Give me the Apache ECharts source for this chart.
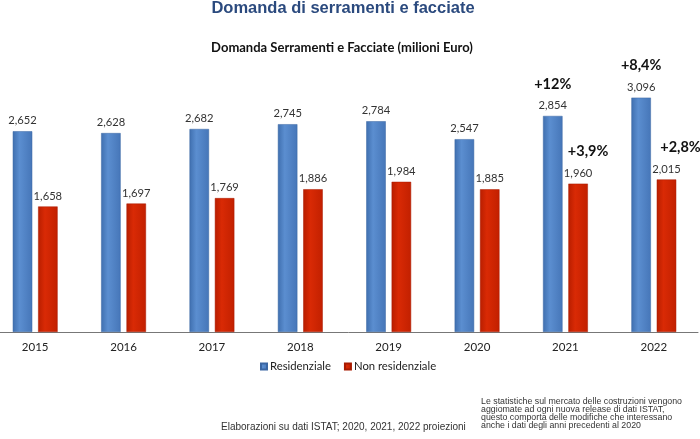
<!DOCTYPE html>
<html>
<head>
<meta charset="utf-8">
<script src="https://cdn.jsdelivr.net/npm/echarts@6/dist/echarts.min.js"></script>
<style>html,body{margin:0;padding:0;background:#fff}#c{width:700px;height:439px}</style>
</head>
<body>
<div id="c"></div>
<script>
const years = ['2015','2016','2017','2018','2019','2020','2021','2022'];
const residenziale = [2652, 2628, 2682, 2745, 2784, 2547, 2854, 3096];
const nonResidenziale = [1658, 1697, 1769, 1886, 1984, 1885, 1960, 2015];
const growthYears = ['2021', '2022'];
const growthRes = ['+12%', '+8,4%'];
const growthNonRes = ['+3,9%', '+2,8%'];
const seriesNames = ['Residenziale', 'Non residenziale'];
const mainTitle = 'Domanda di serramenti e facciate';
const chartTitle = 'Domanda Serramenti e Facciate (milioni Euro)';
const sourceNote = 'Elaborazioni su dati ISTAT; 2020, 2021, 2022 proiezioni';
const disclaimer = ['Le statistiche sul mercato delle costruzioni vengono',
  'aggiomate ad ogni nuova release di dati ISTAT,',
  'questo comporta delle modifiche che interessano',
  'anche i dati degli anni precedenti al 2020'];

const fmt = v => v.toLocaleString('en-US');
const chart = echarts.init(document.getElementById('c'), null, {renderer: 'canvas'});

function growthPoints(vals, labels, dx) {
  return growthYears.map((y, i) => ({
    coord: [y, vals[years.indexOf(y)]],
    value: labels[i],
    label: {offset: [dx[i], -32]}
  }));
}

chart.setOption({
  animation: false,
  title: [
    {text: mainTitle, left: 343, top: 0, padding: 0, textAlign: 'center',
     textStyle: {fontFamily: 'Liberation Sans, Arial', fontWeight: 'bold', fontSize: 16.5, color: '#2B4A7E'}},
    {text: chartTitle, left: 342, top: 41, padding: 0, textAlign: 'center',
     textStyle: {fontFamily: 'Lato', fontWeight: 'bold', fontSize: 13, color: '#111'}},
    {text: sourceNote, left: 221, top: 422, padding: 0,
     textStyle: {fontFamily: 'Liberation Sans, Arial', fontWeight: 'normal', fontSize: 10, color: '#333'}},
    {text: disclaimer.join('\n'), left: 481, top: 397, padding: 0,
     textStyle: {fontFamily: 'Liberation Sans, Arial', fontWeight: 'normal', fontSize: 8.8, lineHeight: 8.2, color: '#333'}}
  ],
  legend: {
    data: seriesNames, left: 260, top: 361, itemWidth: 6, itemHeight: 6, itemGap: 13,
    icon: 'rect', padding: 0,
    textStyle: {fontFamily: 'Lato', fontSize: 11.3, color: '#222', padding: [0, 0, 0, -2]}
  },
  grid: {left: -9, width: 707, top: 29.2, bottom: 107, containLabel: false, outerBoundsMode: 'none'},
  xAxis: {
    type: 'category', data: years,
    axisLine: {show: true, lineStyle: {color: '#777', width: 1}},
    axisTick: {show: false},
    axisLabel: {fontFamily: 'Lato', fontSize: 11.5, color: '#222', margin: 9}
  },
  yAxis: {type: 'value', min: 0, max: 4000, show: false, splitLine: {show: false}},
  series: [
    {
      name: seriesNames[0], type: 'bar', data: residenziale, barWidth: 19.5, barGap: '30%',
      itemStyle: {
        color: new echarts.graphic.LinearGradient(0, 0, 1, 0, [
          {offset: 0, color: '#3F6FAF'}, {offset: 0.35, color: '#5B8ED0'}, {offset: 1, color: '#4676B8'}]),
        borderColor: '#3A66A3', borderWidth: 0.5
      },
      label: {show: true, position: 'top', distance: 5, formatter: p => fmt(p.value),
        fontFamily: 'Lato', fontSize: 11.2, color: '#333'},
      markPoint: {
        symbol: 'circle', symbolSize: 0.1, itemStyle: {color: 'rgba(0,0,0,0)'},
        label: {show: true, position: 'inside', formatter: p => p.value,
          fontFamily: 'Lato', fontWeight: 'bold', fontSize: 14.5, color: '#111'},
        data: growthPoints(residenziale, growthRes, [0, 0])
      }
    },
    {
      name: seriesNames[1], type: 'bar', data: nonResidenziale, barWidth: 19.5,
      itemStyle: {
        color: new echarts.graphic.LinearGradient(0, 0, 1, 0, [
          {offset: 0, color: '#B81E00'}, {offset: 0.35, color: '#D92A05'}, {offset: 1, color: '#C22000'}]),
        borderColor: '#A81A00', borderWidth: 0.5
      },
      label: {show: true, position: 'top', distance: 5, formatter: p => fmt(p.value),
        fontFamily: 'Lato', fontSize: 11.2, color: '#333'},
      markPoint: {
        symbol: 'circle', symbolSize: 0.1, itemStyle: {color: 'rgba(0,0,0,0)'},
        label: {show: true, position: 'inside', formatter: p => p.value,
          fontFamily: 'Lato', fontWeight: 'bold', fontSize: 14.5, color: '#111'},
        data: growthPoints(nonResidenziale, growthNonRes, [10, 14])
      }
    }
  ]
});
</script>
</body>
</html>
